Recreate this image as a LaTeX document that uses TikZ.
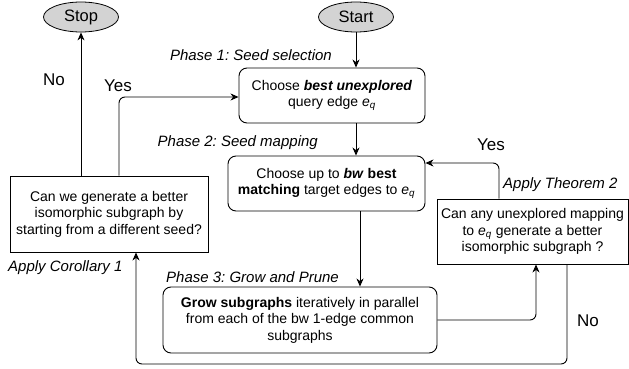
\documentclass[tikz,border=0pt]{standalone}
\usepackage{fontspec}
\setmainfont{Liberation Sans}
\usetikzlibrary{arrows.meta,shapes.geometric}
\definecolor{termgray}{HTML}{D3D3D3}
\frenchspacing
\begin{document}
\begin{tikzpicture}[x=1pt,y=-1pt,
  every node/.style={font=\fontsize{14}{16.5}\selectfont, inner sep=0pt},
  term/.style={ellipse, draw, fill=termgray, line width=0.8pt, minimum width=75pt, minimum height=30pt, font=\fontsize{16.5}{18}\selectfont},
  roundbox/.style={draw, rounded corners=8pt, align=center, line width=0.9pt},
  sharpbox/.style={draw, align=center, line width=0.9pt},
  plabel/.style={font=\fontsize{15}{17}\selectfont\itshape},
  yn/.style={font=\fontsize{17}{19}\selectfont},
  conn/.style={draw, line width=0.9pt, -{Stealth[length=8pt,width=7pt,inset=2.5pt]}, rounded corners=6pt}
]
\path[use as bounding box, fill=white] (0,0) rectangle (629,369);

% terminals
\node[term] (stop) at (81,17) {Stop};
\node[term] (start) at (356,17) {Start};

% boxes
\node[roundbox, minimum width=186pt, minimum height=55pt] (box1) at (332,95.5)
  {Choose \textbf{\textit{best unexplored}}\\ query edge \textit{e}\textsubscript{\textit{q}}};
\node[roundbox, minimum width=197pt, minimum height=55pt] (box2) at (326.5,183.5)
  {Choose up to \textbf{\textit{bw} best}\\ \textbf{matching} target edges to \textit{e}\textsubscript{\textit{q}}};
\node[roundbox, minimum width=274pt, minimum height=66pt] (box3) at (300,320)
  {\textbf{Grow subgraphs} iteratively in parallel\\ from each of the bw 1-edge common\\ subgraphs};
\node[sharpbox, minimum width=191pt, minimum height=65pt] (rbox) at (532.5,231.5)
  {Can any unexplored mapping\\ to \textit{e}\textsubscript{\textit{q}} generate a better\\ isomorphic subgraph ?};
\node[sharpbox, minimum width=198pt, minimum height=76pt] (lbox) at (109,214)
  {Can we generate a better\\ isomorphic subgraph by\\ starting from a different seed?};

% labels
\node[plabel, anchor=east] (p1) at (332,55) {Phase 1: Seed selection};
\node[plabel, anchor=east] (p2) at (318,143) {Phase 2: Seed mapping};
\node[plabel, anchor=west] (p3) at (166,277) {Phase 3: Grow and Prune};
\node[plabel, anchor=west] (thm) at (503,185) {Apply Theorem 2};
\node[plabel, anchor=west] (cor) at (8,268) {Apply Corollary 1};
\node[yn] (yesr) at (491,145) {Yes};
\node[yn] (nor) at (588,321) {No};
\node[yn] (nol) at (54,80) {No};
\node[yn] (yesl) at (118,86) {Yes};

% helper coordinates
\coordinate (c23) at (360,0);
\coordinate (c3r) at (536,0);
\coordinate (ky) at (499,163);
\coordinate (n1) at (567,364);
\coordinate (n2) at (136,364);
\coordinate (yl) at (119,97);

% connectors
\draw[conn] (start.south) -- (box1.north -| start);
\draw[conn] (box1.south -| start) -- (box2.north -| start);
\draw[conn] (box2.south -| c23) -- (box3.north -| c23);
\draw[conn] (box3.east) -| (rbox.south -| c3r);
\draw[conn] (rbox.north -| ky) |- (box2.east |- ky);
\draw[conn] (rbox.south -| n1) -- (n1) -- (n2) -- (lbox.south -| n2);
\draw[conn] (lbox.north -| stop) -- (stop.south);
\draw[conn] (lbox.north -| yl) |- (box1.west |- yl);
\end{tikzpicture}
\end{document}
